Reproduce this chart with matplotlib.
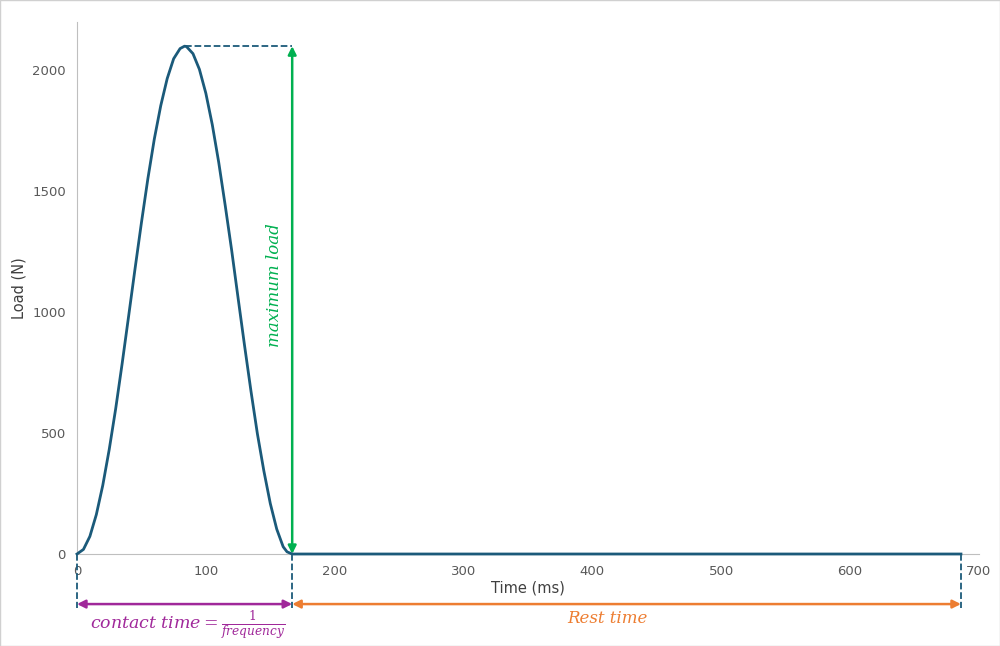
import matplotlib
matplotlib.use("Agg")
import matplotlib.pyplot as plt
from matplotlib.patches import FancyArrowPatch

time_ms = [0,5,10,15,20,25,30,35,40,45,50,55,60,65,70,75,80,83.5,85,90,95,100,105,110,115,120,125,
           130,135,140,145,150,155,160,163,167,686]
load_n = [0,19,73,163,284,432,600,786,981,1178,1370,1552,1716,1854,1966,2048,2090,2100,2098,2069,2004,
          1905,1775,1619,1442,1257,1059,863,674,497,344,209,103,30,9,0,0]
peak_t, peak_load, contact_end, rest_end = 83.5, 2100, 167, 686

fig = plt.figure(figsize=(10, 6.46), dpi=100)
ax = fig.add_axes([0.077, 0.1424, 0.902, 0.8236])
line_c = "#1b5a7a"
ax.plot(time_ms, load_n, color=line_c, lw=2, clip_on=False, zorder=3)
ax.set_xlim(0, 700); ax.set_ylim(0, 2200)
ax.set_xticks(range(0, 701, 100)); ax.set_yticks(range(0, 2001, 500))
for s in ["top", "right"]:
    ax.spines[s].set_visible(False)
for s in ["left", "bottom"]:
    ax.spines[s].set_color("#bfbfbf")
ax.tick_params(colors="#595959", labelsize=9.5, length=0, pad=8)
ax.set_xlabel("Time (ms)", color="#404040", fontsize=10.5, labelpad=2)
ax.set_ylabel("Load (N)", color="#404040", fontsize=10.5, labelpad=4)

ax.plot([peak_t, contact_end], [peak_load, peak_load], ls="--", color=line_c, lw=1.3)
for xv in [0, contact_end, rest_end]:
    ax.plot([xv, xv], [0, -225], ls="--", color=line_c, lw=1.3, clip_on=False)

def arrow(p1, p2, c):
    a = FancyArrowPatch(p1, p2, arrowstyle="<|-|>", mutation_scale=12, color=c, lw=1.8, clip_on=False, shrinkA=0, shrinkB=0)
    ax.add_patch(a)

green, purple, orange = "#00b050", "#a0289a", "#ed7d31"
arrow((contact_end, 0), (contact_end, peak_load), green)
arrow((0, -207), (contact_end, -207), purple)
arrow((contact_end, -207), (rest_end, -207), orange)

ax.text(153, 1110, "maximum load", rotation=90, color=green, fontsize=12,
        family="DejaVu Serif", style="italic", ha="center", va="center")
ax.text(86, -295, r"$\mathit{contact\ time} = \frac{1}{\mathit{frequency}}$", color=purple,
        fontsize=12.5, ha="center", va="center", math_fontfamily="dejavuserif")
ax.text(412, -265, "Rest time", color=orange, fontsize=12, family="DejaVu Serif",
        style="italic", ha="center", va="center")

fig.patches.append(plt.Rectangle((0, 0), 1, 1, transform=fig.transFigure, fill=False,
                                 edgecolor="#d0d0d0", lw=1))
fig.savefig("out.png", dpi=100)
